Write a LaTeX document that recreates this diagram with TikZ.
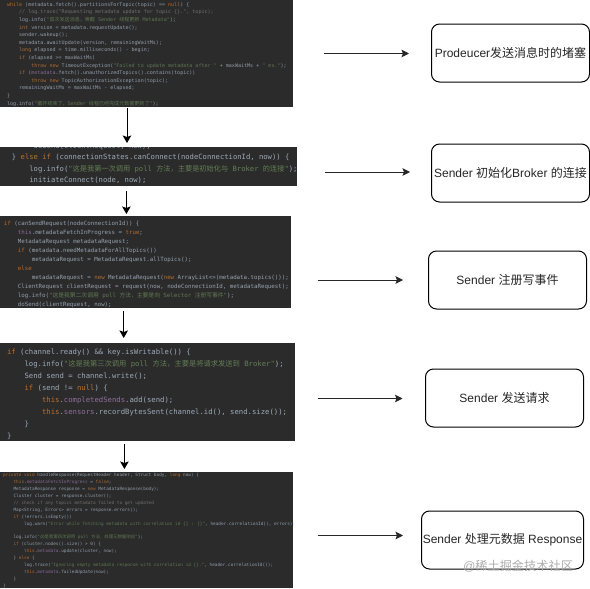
\documentclass[tikz,border=0pt]{standalone}
\usepackage{fontspec}
\setmainfont{Liberation Sans}
\newfontfamily\cjk{Noto Sans CJK SC}
\newfontfamily\codefont{DejaVu Sans Mono}
\usetikzlibrary{arrows.meta}
\definecolor{panelbg}{HTML}{2B2B2B}
\definecolor{codetxt}{HTML}{A9B7C6}
\definecolor{kwd}{HTML}{CC7832}
\definecolor{fld}{HTML}{9876AA}
\definecolor{strg}{HTML}{6A8759}
\definecolor{cmt}{HTML}{808080}
\newcommand{\Z}[1]{{\cjk #1}}
\newcommand{\K}[1]{\textcolor{kwd}{#1}}
\newcommand{\F}[1]{\textcolor{fld}{#1}}
\newcommand{\St}[1]{\textcolor{strg}{#1}}
\newcommand{\Cm}[1]{\textcolor{cmt}{#1}}
\newcommand{\In}{\hphantom{0000}}
\tikzset{
  x=1pt,y=-1pt,
  panel/.style={fill=panelbg,draw=none,anchor=north west,inner sep=0pt,outer sep=0pt},
  code/.style={anchor=north west,inner sep=0pt,outer sep=0pt,align=left,text=codetxt},
  box/.style={draw=black,line width=1pt,rounded corners=8pt,minimum width=158pt,minimum height=58pt,inner sep=0pt,anchor=north west,font=\fontsize{12}{14}\selectfont,text=black!85},
  vflow/.style={draw=black,line width=1pt,-{Stealth[length=7.5pt,width=8.5pt,inset=1.5pt]}},
  hflow/.style={draw=black!85,line width=0.9pt,-{Stealth[length=7.5pt,width=7.5pt,inset=1.5pt]}},
  mark text/.style={anchor=center,inner sep=0pt,text=black!32,font=\fontsize{12.2}{14}\selectfont}
}
\begin{document}
\begin{tikzpicture}
\useasboundingbox (0,0) rectangle (590,589);
\fill[white] (0,0) rectangle (590,589);
% panels
\node[panel,minimum width=293pt,minimum height=107pt] (p1) at (0,0) {};
\node[panel,minimum width=297pt,minimum height=39pt] (p2) at (0,147) {};
\node[panel,minimum width=291pt,minimum height=92pt] (p3) at (0,216) {};
\node[panel,minimum width=295pt,minimum height=98pt] (p4) at (0,343) {};
\node[panel,minimum width=293pt,minimum height=116pt] (p5) at (0,472) {};
% code 1
\begin{scope}
\clip (0,0) rectangle (293,107);
\node[code,font=\codefont\fontsize{5.05}{7.6}\selectfont,opacity=.8] (c1) at (7,2.5) {%
\K{while} (metadata.fetch().partitionsForTopic(topic) == \K{null}) \{\\
\In\Cm{// log.trace("Requesting metadata update for topic \{\}.", topic);}\\
\In log.info(\St{"\Z{首次发送消息，唤醒} Sender \Z{线程更新} Metadata"});\\
\In\K{int} version = metadata.requestUpdate();\\
\In sender.wakeup();\\
\In metadata.awaitUpdate(version, remainingWaitMs);\\
\In\K{long} elapsed = time.milliseconds() - begin;\\
\In\K{if} (elapsed >= maxWaitMs)\\
\In\In\K{throw new} TimeoutException(\St{"Failed to update metadata after "} + maxWaitMs + \St{" ms."});\\
\In\K{if} (\F{metadata}.fetch().unauthorizedTopics().contains(topic))\\
\In\In\K{throw new} TopicAuthorizationException(topic);\\
\In remainingWaitMs = maxWaitMs - elapsed;\\
\}\\
log.info(\St{"\Z{循环结束了，}Sender \Z{线程已经完成元数据更新了}"});};
\end{scope}
% code 2
\begin{scope}
\clip (0,147) rectangle (297,186);
\node[code,font=\codefont\fontsize{7.2}{11.5}\selectfont,opacity=.9] (c2) at (12,142.5) {%
\In\hphantom{0}doSend(clientRequest, now);\\
\} \K{else if} (connectionStates.canConnect(nodeConnectionId, now)) \{\\
\In log.info(\St{"\Z{这是我第一次调用} poll \Z{方法，主要是初始化与} Broker \Z{的连接}"});\\
\In initiateConnect(node, now);};
\end{scope}
% code 3
\node[code,font=\codefont\fontsize{5.77}{9.05}\selectfont,opacity=.85] (c3) at (4,220.8) {%
\K{if} (canSendRequest(nodeConnectionId)) \{\\
\In\F{this}.metadataFetchInProgress = \K{true};\\
\In MetadataRequest metadataRequest;\\
\In\K{if} (metadata.needMetadataForAllTopics())\\
\In\In metadataRequest = MetadataRequest.allTopics();\\
\In\K{else}\\
\In\In metadataRequest = \K{new} MetadataRequest(\K{new} ArrayList<>(metadata.topics()));\\
\In ClientRequest clientRequest = request(now, nodeConnectionId, metadataRequest);\\
\In log.info(\St{"\Z{这是我第二次调用} poll \Z{方法，主要是向} Selector \Z{注册写事件}"});\\
\In doSend(clientRequest, now);};
% code 4
\node[code,font=\codefont\fontsize{7.27}{12}\selectfont,opacity=.9] (c4) at (7,348.5) {%
\K{if} (channel.ready() \&\& key.isWritable()) \{\\
\In log.info(\St{"\Z{这是我第三次调用} poll \Z{方法，主要是将请求发送到} Broker"});\\
\In Send send = channel.write();\\
\In\K{if} (send != \K{null}) \{\\
\In\In\K{this}.\F{completedSends}.add(send);\\
\In\In\K{this}.\F{sensors}.recordBytesSent(channel.id(), send.size());\\
\In\}\\
\}};
% code 5
\begin{scope}
\clip (0,472) rectangle (293,588);
\node[code,font=\codefont\fontsize{4.4}{6.9}\selectfont,opacity=.8] (c5) at (3,473.5) {%
\K{private void} handleResponse(RequestHeader header, Struct body, \K{long} now) \{\\
\In\K{this}.\F{metadataFetchInProgress} = \K{false};\\
\In MetadataResponse response = \K{new} MetadataResponse(body);\\
\In Cluster cluster = response.cluster();\\
\In\Cm{// check if any topics metadata failed to get updated}\\
\In Map<String, Errors> errors = response.errors();\\
\In\K{if} (!errors.isEmpty())\\
\In\In log.warn(\St{"Error while fetching metadata with correlation id \{\} : \{\}"}, header.correlationId(), errors);\\
\mbox{}\\
\In log.info(\St{"\Z{这是我第四次调用} poll \Z{方法，处理元数据响应}"});\\
\In\K{if} (cluster.nodes().size() > 0) \{\\
\In\In\K{this}.\F{metadata}.update(cluster, now);\\
\In\} \K{else} \{\\
\In\In log.trace(\St{"Ignoring empty metadata response with correlation id \{\}."}, header.correlationId());\\
\In\In\K{this}.\F{metadata}.failedUpdate(now);\\
\In\}\\
\}};
\end{scope}
% boxes
\node[box] (b1) at (431,23.5) {Prodeucer\Z{发送消息时的堵塞}};
\node[box] (b2) at (431,143.5) {Sender \Z{初始化}Broker \Z{的连接}};
\node[box] (b3) at (428,250.5) {Sender \Z{注册写事件}};
\node[box] (b4) at (425,368.5) {Sender \Z{发送请求}};
\node[box,minimum width=162pt] (b5) at (421,510.5) {Sender \Z{处理元数据} Response};
\node[mark text] (wm) at (518,566) {@\Z{稀土掘金技术社区}};
% free ends
\coordinate (v1a) at (127,108); \coordinate (v1b) at (127,143);
\coordinate (v2a) at (126.4,191); \coordinate (v2b) at (126.4,214);
\coordinate (v3a) at (123.7,311); \coordinate (v3b) at (123.7,338);
\coordinate (v4a) at (124.4,444); \coordinate (v4b) at (124.4,469);
\coordinate (h1a) at (324,53.5); \coordinate (h1b) at (409,53.5);
\coordinate (h2a) at (325,172); \coordinate (h2b) at (410,172);
\coordinate (h3a) at (318,280); \coordinate (h3b) at (403,280);
\coordinate (h4a) at (317.5,398.5); \coordinate (h4b) at (402.5,398.5);
\coordinate (h5a) at (318,535.5); \coordinate (h5b) at (403,535.5);
\draw[vflow] (v1a) -- (v1b);
\draw[vflow] (v2a) -- (v2b);
\draw[vflow] (v3a) -- (v3b);
\draw[vflow] (v4a) -- (v4b);
\draw[hflow] (h1a) -- (h1b);
\draw[hflow] (h2a) -- (h2b);
\draw[hflow] (h3a) -- (h3b);
\draw[hflow] (h4a) -- (h4b);
\draw[hflow] (h5a) -- (h5b);
\end{tikzpicture}
\end{document}
